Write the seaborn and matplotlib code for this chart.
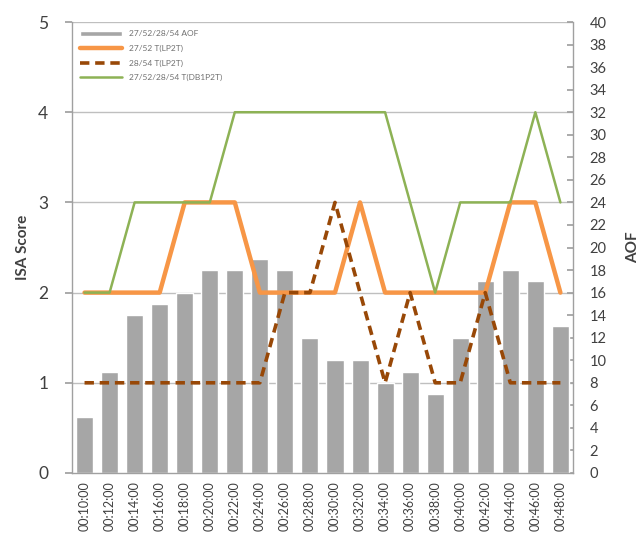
import matplotlib
matplotlib.use("Agg")
import matplotlib.pyplot as plt
import numpy as np
import pandas as pd
import seaborn as sns

# Time stamps (every two minutes)
times = ["00:10:00", "00:12:00", "00:14:00", "00:16:00", "00:18:00",
         "00:20:00", "00:22:00", "00:24:00", "00:26:00", "00:28:00",
         "00:30:00", "00:32:00", "00:34:00", "00:36:00", "00:38:00",
         "00:40:00", "00:42:00", "00:44:00", "00:46:00", "00:48:00"]

# AOF counts (right axis)
aof = [5, 9, 14, 15, 16, 18, 18, 19, 18, 12,
       10, 10, 8, 9, 7, 12, 17, 18, 17, 13]

# ISA scores (left axis)
isa_27_52 = [2, 2, 2, 2, 3, 3, 3, 2, 2, 2, 2, 3, 2, 2, 2, 2, 2, 3, 3, 2]
isa_28_54 = [1, 1, 1, 1, 1, 1, 1, 1, 2, 2, 3, 2, 1, 2, 1, 1, 2, 1, 1, 1]
isa_all = [2, 2, 3, 3, 3, 3, 4, 4, 4, 4, 4, 4, 4, 3, 2, 3, 3, 3, 4, 3]

labels = ["27/52/28/54 AOF", "27/52 T(LP2T)", "28/54 T(LP2T)", "27/52/28/54 T(DB1P2T)"]

isa_ticks = [0, 1, 2, 3, 4, 5]
aof_ticks = list(range(0, 41, 2))

sns.set_theme(style="white")
plt.rcParams["font.family"] = ["Lato", "DejaVu Sans"]

df = pd.DataFrame({"time": times, "aof": aof,
                   "a": isa_27_52, "b": isa_28_54, "c": isa_all})
df["pos"] = np.arange(len(times))

fig = plt.figure(figsize=(6.43, 5.51), dpi=100)
ax = fig.add_axes([0.112, 0.1416, 0.779, 0.8184])
ax2 = ax.twinx()

grid_c = "#BFBFBF"
axis_c = "#A0A0A0"
text_c = "#404040"

# Bars on the AOF axis, drawn behind the ISA lines
sns.barplot(data=df, x="pos", y="aof", ax=ax2, color="#A6A6A6",
            saturation=1, width=0.68, native_scale=True, label=labels[0])
for t in isa_ticks[1:]:
    ax2.axhline(t * 8, color=grid_c, lw=1.0, zorder=0)
ax2.set_ylim(0, 40)
ax2.set_yticks(aof_ticks)
ax2.set_ylabel("AOF", fontsize=11, fontweight="bold", color=text_c, labelpad=14)
ax2.tick_params(axis="y", labelsize=10.5, colors=axis_c, labelcolor=text_c,
                length=4, direction="in", pad=12)

ax.set_zorder(ax2.get_zorder() + 1)
ax.patch.set_visible(False)

sns.lineplot(data=df, x="pos", y="a", ax=ax, color="#F79646", lw=3.2,
             label=labels[1])
sns.lineplot(data=df, x="pos", y="b", ax=ax, color="#984807", lw=2.6,
             linestyle=(0, (2.6, 1.6)), label=labels[2])
sns.lineplot(data=df, x="pos", y="c", ax=ax, color="#8DB255", lw=1.8,
             label=labels[3])

ax.set_ylim(0, 5)
ax.set_yticks(isa_ticks)
ax.set_xlim(-0.5, len(times) - 0.5)
ax.set_xticks(df["pos"])
ax.set_xticklabels(times, rotation=90, fontsize=9, color=text_c)
ax.set_xticks(np.arange(len(times) + 1) - 0.5, minor=True)
ax.tick_params(axis="x", which="major", length=0, pad=6)
ax.tick_params(axis="x", which="minor", length=5, color=axis_c, direction="out")
ax.tick_params(axis="y", labelsize=12.5, colors=axis_c, labelcolor=text_c,
               length=5, direction="out", pad=12)
ax.set_xlabel("")
ax.set_ylabel("ISA Score", fontsize=11, fontweight="bold", color=text_c, labelpad=6)
ax2.set_xlabel("")

for a in (ax, ax2):
    for s in a.spines.values():
        s.set_visible(False)
for k in ("left", "right", "bottom"):
    ax2.spines[k].set_visible(True)
    ax2.spines[k].set_color(axis_c)
    ax2.spines[k].set_linewidth(1.0)

# Combined legend
h1, l1 = ax2.get_legend_handles_labels()
h2, l2 = ax.get_legend_handles_labels()
if ax2.get_legend():
    ax2.get_legend().remove()
leg = ax.legend(h1 + h2, l1 + l2, loc="upper left", bbox_to_anchor=(0.0, 1.0),
                fontsize=6, frameon=True, fancybox=False, edgecolor="white",
                framealpha=1, handlelength=5, borderpad=0.8, labelspacing=0.9,
                borderaxespad=0.2)
for txt in leg.get_texts():
    txt.set_color("#707070")

fig.savefig("out.png", dpi=100)
